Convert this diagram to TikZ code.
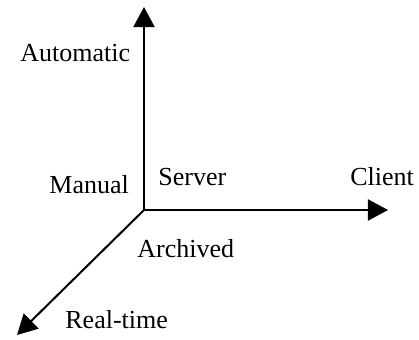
\documentclass[tikz,border=0pt]{standalone}
\usepackage{fontspec}
\setmainfont{Liberation Serif}
\usetikzlibrary{arrows.meta}
\begin{document}
\begin{tikzpicture}[x=0.5pt, y=-0.5pt,
  axis/.style={line width=1pt, -{Triangle[length=10pt, width=10.5pt]}},
  lbl/.style={anchor=base west, inner sep=0pt, font=\fontsize{13}{15}\selectfont}]
  \useasboundingbox (0,0) rectangle (419,339);
  % axis origin and end points
  \coordinate (o) at (144,210);
  \coordinate (up) at (144,7);
  \coordinate (right) at (388,210);
  \coordinate (down) at (17,335);
  % axes
  \draw[axis] (o) -- (up);
  \draw[axis] (o) -- (right);
  \draw[axis] (o) -- (down);
  % labels
  \node[lbl] (automatic) at (20,61) {Automatic};
  \node[lbl] (manual) at (49,193) {Manual};
  \node[lbl] (server) at (158,185) {Server};
  \node[lbl] (client) at (350,185) {Client};
  \node[lbl] (archived) at (137,257) {Archived};
  \node[lbl] (realtime) at (65,328) {Real-time};
\end{tikzpicture}
\end{document}
